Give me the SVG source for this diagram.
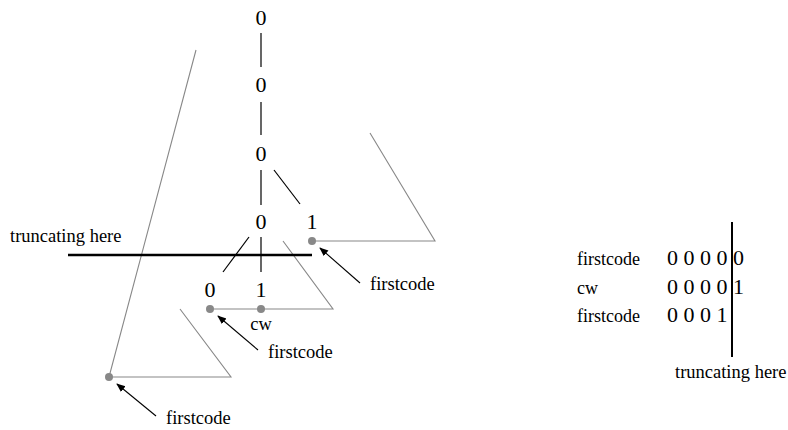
<svg xmlns="http://www.w3.org/2000/svg" width="788" height="430" viewBox="0 0 788 430">
<defs>
<style>
text{font-family:"Liberation Serif","Times New Roman",serif;fill:#000}
.d{font-size:22px;text-anchor:middle}
.l{font-size:18.5px}
.r{font-size:18px}
.z{font-size:22px}
.e{stroke:#000;stroke-width:1.2;fill:none}
.g{stroke:#888;stroke-width:1.1;fill:none}
.dot{fill:#888}
.a{stroke:#000;stroke-width:1.1;fill:none;marker-end:url(#ah)}
</style>
<marker id="ah" viewBox="0 0 10 10" refX="9" refY="5" markerWidth="9" markerHeight="9" markerUnits="userSpaceOnUse" orient="auto">
<path d="M0,1 L10,5 L0,9 Z" fill="#000"/>
</marker>
</defs>
<rect width="788" height="430" fill="#fff"/>
<g id="connectors">
<line class="e" x1="261" y1="33" x2="261" y2="67"/>
<line class="e" x1="261" y1="102" x2="261" y2="135"/>
<line class="e" x1="261" y1="170" x2="261" y2="205"/>
<line class="e" x1="274" y1="170" x2="300" y2="204"/>
<line class="e" x1="261" y1="237" x2="261" y2="272"/>
<line class="e" x1="249" y1="237" x2="223" y2="272"/>
<polyline class="g" points="196,50 109,377 231,377 180,309"/>
<polyline class="g" points="210,309 333,309 283,241"/>
<polyline class="g" points="312,241 435,241 370,133"/>
<line class="a" x1="360" y1="283" x2="320" y2="248"/>
<line class="a" x1="258" y1="350" x2="218" y2="316"/>
<line class="a" x1="156" y1="416" x2="117" y2="384"/>
</g>
<g id="truncate-left">
<line x1="68" y1="255" x2="312" y2="255" stroke="#000" stroke-width="2.5"/>
<text class="l" x="10" y="242">truncating here</text>
</g>
<g id="n1"><text class="d" x="261" y="25">0</text></g>
<g id="n2"><text class="d" x="261" y="92">0</text></g>
<g id="n3"><text class="d" x="261" y="161">0</text></g>
<g id="n4"><text class="d" x="261" y="229">0</text></g>
<g id="n5"><text class="d" x="312" y="229">1</text><circle class="dot" cx="312" cy="241" r="4"/></g>
<g id="n6"><text class="d" x="210" y="297">0</text><circle class="dot" cx="210" cy="309" r="4"/></g>
<g id="n7"><text class="d" x="261" y="297">1</text><circle class="dot" cx="261" cy="309" r="4"/><text class="l" x="261" y="330" text-anchor="middle">cw</text></g>
<g id="n8"><circle class="dot" cx="109" cy="377" r="4"/></g>
<g id="labels">
<text class="l" x="370" y="290">firstcode</text>
<text class="l" x="268" y="358">firstcode</text>
<text class="l" x="166" y="424">firstcode</text>
</g>
<g id="table">
<text class="r" x="577" y="265">firstcode</text>
<text class="r" x="577" y="294">cw</text>
<text class="r" x="577" y="322">firstcode</text>
<text class="z" x="667" y="265">0 0 0 0</text>
<text class="z" x="733" y="265">0</text>
<text class="z" x="667" y="294">0 0 0 0</text>
<text class="z" x="733" y="294">1</text>
<text class="z" x="667" y="322">0 0 0 1</text>
<line x1="732" y1="222" x2="732" y2="357" stroke="#000" stroke-width="2"/>
<text class="l" x="675" y="378">truncating here</text>
</g>
</svg>
